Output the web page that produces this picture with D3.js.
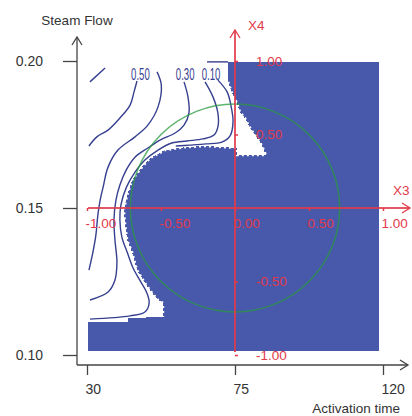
<!DOCTYPE html>
<html>
<head>
<meta charset="utf-8">
<script src="https://cdn.jsdelivr.net/npm/d3@7"></script>
<style>
  body { margin: 0; background: #fff; }
  svg  { display: block; font-family: "Liberation Sans", Arial, sans-serif; }
</style>
</head>
<body>
<div id="chart"></div>
<script>
// ---- values ----
var xTicks  = [30, 75, 120];
var yTicks  = [0.10, 0.15, 0.20];
var x3Ticks = [-1, -0.5, 0, 0.5, 1];
var x4Ticks = [-1, -0.5, 0.5, 1];

// extent of the shaded (blue) grid
var shadeX = [30.3, 118.8];
var shadeY = [0.1014, 0.1997];

// unshaded part of the grid (activation time, steam flow)
var openRegion = [
  [30.3, 0.1997], [72.9, 0.1997], [72.9, 0.1929], [74.1, 0.1891], [75.6, 0.1857],
  [76.5, 0.1827], [78.0, 0.1806], [79.6, 0.1772], [81.1, 0.1748], [82.6, 0.1724],
  [83.5, 0.1704], [84.4, 0.1680], [75.6, 0.1680], [75.6, 0.1704], [66.2, 0.1711],
  [59.8, 0.1707], [53.7, 0.1697], [49.2, 0.1670], [46.7, 0.1639], [43.7, 0.1595],
  [42.2, 0.1544], [41.2, 0.1493], [41.6, 0.1442], [42.2, 0.1391], [43.7, 0.1350],
  [45.2, 0.1289], [47.6, 0.1245], [49.8, 0.1211], [51.6, 0.1187], [53.1, 0.1177],
  [53.1, 0.1129], [42.5, 0.1126], [42.5, 0.1112], [30.3, 0.1112]
];

// contour lines
var lineA = [[30.9, 0.1929], [35.5, 0.1976]];
var lineB = [[45.2, 0.1932], [44.3, 0.1895], [43.1, 0.1850], [40.0, 0.1806], [36.4, 0.1765],
             [33.0, 0.1742], [30.6, 0.1711]];
var lineC = [[51.3, 0.1963], [52.6, 0.1918], [51.6, 0.1844], [48.5, 0.1782], [44.6, 0.1742],
             [39.4, 0.1697], [36.4, 0.1639], [34.9, 0.1571], [34.0, 0.1527], [33.3, 0.1476],
             [32.7, 0.1408], [31.8, 0.1350], [30.6, 0.1289]];
var lineD = [[59.5, 0.1929], [60.7, 0.1878], [61.0, 0.1823], [59.5, 0.1782], [56.8, 0.1755],
             [52.2, 0.1731], [48.5, 0.1704], [44.6, 0.1673], [41.9, 0.1629], [40.0, 0.1578],
             [38.8, 0.1527], [38.2, 0.1459], [38.5, 0.1391], [39.1, 0.1316], [38.5, 0.1255],
             [36.4, 0.1214], [30.9, 0.1187]];
var lineE = [[65.9, 0.1929], [68.3, 0.1878], [69.8, 0.1823], [69.8, 0.1776], [68.6, 0.1748],
             [65.3, 0.1735], [60.4, 0.1728], [55.8, 0.1721], [51.6, 0.1697], [47.6, 0.1663],
             [44.6, 0.1622], [42.0, 0.1571], [40.3, 0.1510], [40.0, 0.1459], [40.6, 0.1401],
             [42.2, 0.1350], [44.0, 0.1296], [46.4, 0.1248], [48.2, 0.1211], [48.9, 0.1177],
             [47.6, 0.1146], [43.1, 0.1133], [30.9, 0.1122]];
var lineF = [[69.8, 0.1935], [72.6, 0.1895], [73.8, 0.1847], [74.4, 0.1793], [73.5, 0.1745],
             [71.0, 0.1724], [66.2, 0.1718], [61.3, 0.1714], [57.0, 0.1711]];
var lineG = [[66.5, 0.1997], [72.9, 0.1997]];

var levelText = ['0.50', '0.30', '0.10'];
var levelX    = [43.4, 57.0, 64.9];
var levelY    = [0.1935, 0.1935, 0.1935];

// design-space circle, centre in natural units, radius in coded units
var circleCenter = [75, 0.15];
var circleRadius = 0.707;

// ---- drawing ----
var W = 412, H = 416;
var margin = {top: 61, right: 29, bottom: 61, left: 87};

var RED = '#e23a4a', BLUE = '#4858aa', INK = '#36408f', AXIS = '#444';

var x = d3.scaleLinear().domain([30, 120]).range([margin.left, W - margin.right]);
var y = d3.scaleLinear().domain([0.10, 0.20]).range([H - margin.bottom, margin.top]);
// coded variables X3, X4
var x3 = d3.scaleLinear().domain([-1, 1]).range(x.range());
var x4 = d3.scaleLinear().domain([-1, 1]).range(y.range());

var fmt = function(d) { return d.toFixed(2); };

var svg = d3.select('#chart').append('svg')
  .attr('width', W)
  .attr('height', H);

var line = d3.line()
  .x(function(d) { return x(d[0]); })
  .y(function(d) { return y(d[1]); });

function chevron(g, px, py, dir, color) {
  var s = 5, l = 8, p;
  if (dir === 'up')    p = [[px - s, py + l], [px, py], [px + s, py + l]];
  else                 p = [[px - l, py - s], [px, py], [px - l, py + s]];
  g.append('path')
    .attr('d', d3.line()(p))
    .attr('fill', 'none')
    .attr('stroke', color)
    .attr('stroke-width', 1.3);
}

// shaded area (grid cells -> crisp, stair-stepped edges)
svg.append('rect')
  .attr('x', x(shadeX[0]))
  .attr('y', y(shadeY[1]))
  .attr('width', x(shadeX[1]) - x(shadeX[0]))
  .attr('height', y(shadeY[0]) - y(shadeY[1]))
  .attr('fill', BLUE)
  .attr('shape-rendering', 'crispEdges');

svg.append('path')
  .attr('d', line(openRegion) + 'Z')
  .attr('fill', '#fff')
  .attr('shape-rendering', 'crispEdges');
// jagged cell edge of the shaded area
svg.append('path')
  .attr('d', line(openRegion.slice(2, 31)))
  .attr('fill', 'none')
  .attr('stroke', '#fff')
  .attr('stroke-width', 2.5)
  .attr('stroke-dasharray', '2,3');

// contours
svg.append('g')
  .selectAll('path')
  .data([lineA, lineB, lineC, lineD, lineE, lineF, lineG])
  .enter().append('path')
  .attr('d', function(d) { return line.curve(d3.curveCatmullRom)(d); })
  .attr('fill', 'none')
  .attr('stroke', INK)
  .attr('stroke-width', 1.4);

// level labels: tall, narrow digits
svg.append('g')
  .selectAll('text')
  .data(levelText)
  .enter().append('text')
  .attr('transform', function(d, i) {
    return 'translate(' + x(levelX[i]) + ',' + y(levelY[i]) + ') scale(0.6,1)';
  })
  .attr('fill', INK)
  .attr('font-size', 16)
  .text(function(d) { return d; });

// circle
svg.append('ellipse')
  .attr('cx', x(circleCenter[0]))
  .attr('cy', y(circleCenter[1]))
  .attr('rx', x3(circleRadius) - x3(0))
  .attr('ry', x4(0) - x4(circleRadius))
  .attr('fill', 'none')
  .attr('stroke', '#2a9a40')
  .attr('stroke-opacity', 0.75)
  .attr('stroke-width', 1.5);

// ---- coded axes X3 / X4 ----
var red = svg.append('g');
var x3End = x3(1) + 27, x4Top = x4(1) - 31;

red.append('line')
  .attr('x1', x3(-1) + 1).attr('x2', x3End)
  .attr('y1', x4(0)).attr('y2', x4(0))
  .attr('stroke', RED).attr('stroke-opacity', 0.85).attr('stroke-width', 2);
red.append('line')
  .attr('x1', x3(0)).attr('x2', x3(0))
  .attr('y1', x4(-1) - 3).attr('y2', x4Top)
  .attr('stroke', RED).attr('stroke-opacity', 0.85).attr('stroke-width', 2);
chevron(red, x3End, x4(0), 'right', RED);
chevron(red, x3(0), x4Top, 'up', RED);

var x3Axis = red.append('g')
  .attr('transform', 'translate(0,' + x4(0) + ')')
  .call(d3.axisBottom(x3).tickValues(x3Ticks).tickFormat(fmt)
    .tickSize(3).tickPadding(7));
x3Axis.selectAll('text').attr('text-anchor', 'start').attr('x', -2);

var x4Axis = red.append('g')
  .attr('transform', 'translate(' + x3(0) + ',0)')
  .call(d3.axisRight(x4).tickValues(x4Ticks).tickFormat(fmt)
    .tickSize(3).tickPadding(18));

[x3Axis, x4Axis].forEach(function(a) {
  a.select('.domain').remove();
  a.selectAll('line').attr('stroke', RED).attr('stroke-width', 1.5);
  a.selectAll('text').attr('fill', RED).attr('font-size', 13.5).attr('font-family', null);
});

red.append('text').attr('x', x3(0) + 13).attr('y', x4Top).text('X4')
  .attr('fill', RED).attr('font-size', 13.5);
red.append('text').attr('x', x3End - 17).attr('y', x4(0) - 13).text('X3')
  .attr('fill', RED).attr('font-size', 13.5);

// ---- natural axes ----
var axX = x(30) - 10, axY = y(0.10) + 10;
var ax = svg.append('g');

ax.append('line')
  .attr('x1', axX).attr('x2', axX)
  .attr('y1', axY).attr('y2', y(0.20) - 24)
  .attr('stroke', AXIS).attr('stroke-width', 1.3);
ax.append('line')
  .attr('x1', axX).attr('x2', x(120) + 25)
  .attr('y1', axY).attr('y2', axY)
  .attr('stroke', AXIS).attr('stroke-width', 1.3);
chevron(ax, axX, y(0.20) - 24, 'up', AXIS);
chevron(ax, x(120) + 25, axY, 'right', AXIS);

var yAxis = ax.append('g')
  .attr('transform', 'translate(' + axX + ',0)')
  .call(d3.axisLeft(y).tickValues(yTicks).tickFormat(fmt)
    .tickSize(14).tickPadding(20));
var xAxis = ax.append('g')
  .attr('transform', 'translate(0,' + axY + ')')
  .call(d3.axisBottom(x).tickValues(xTicks).tickSize(10).tickPadding(9));
xAxis.selectAll('text').attr('text-anchor', 'start').attr('x', -2);

[xAxis, yAxis].forEach(function(a) {
  a.select('.domain').remove();
  a.selectAll('line').attr('stroke', AXIS).attr('stroke-width', 1.3);
  a.selectAll('text').attr('fill', '#333').attr('font-size', 14).attr('font-family', null);
});

ax.append('text')
  .attr('x', axX).attr('y', 25)
  .attr('text-anchor', 'middle')
  .attr('font-size', 13.5).attr('fill', '#333')
  .text('Steam Flow');
ax.append('text')
  .attr('x', x(120) + 17).attr('y', 413)
  .attr('text-anchor', 'end')
  .attr('font-size', 13.5).attr('fill', '#333')
  .text('Activation time');
</script>
</body>
</html>
